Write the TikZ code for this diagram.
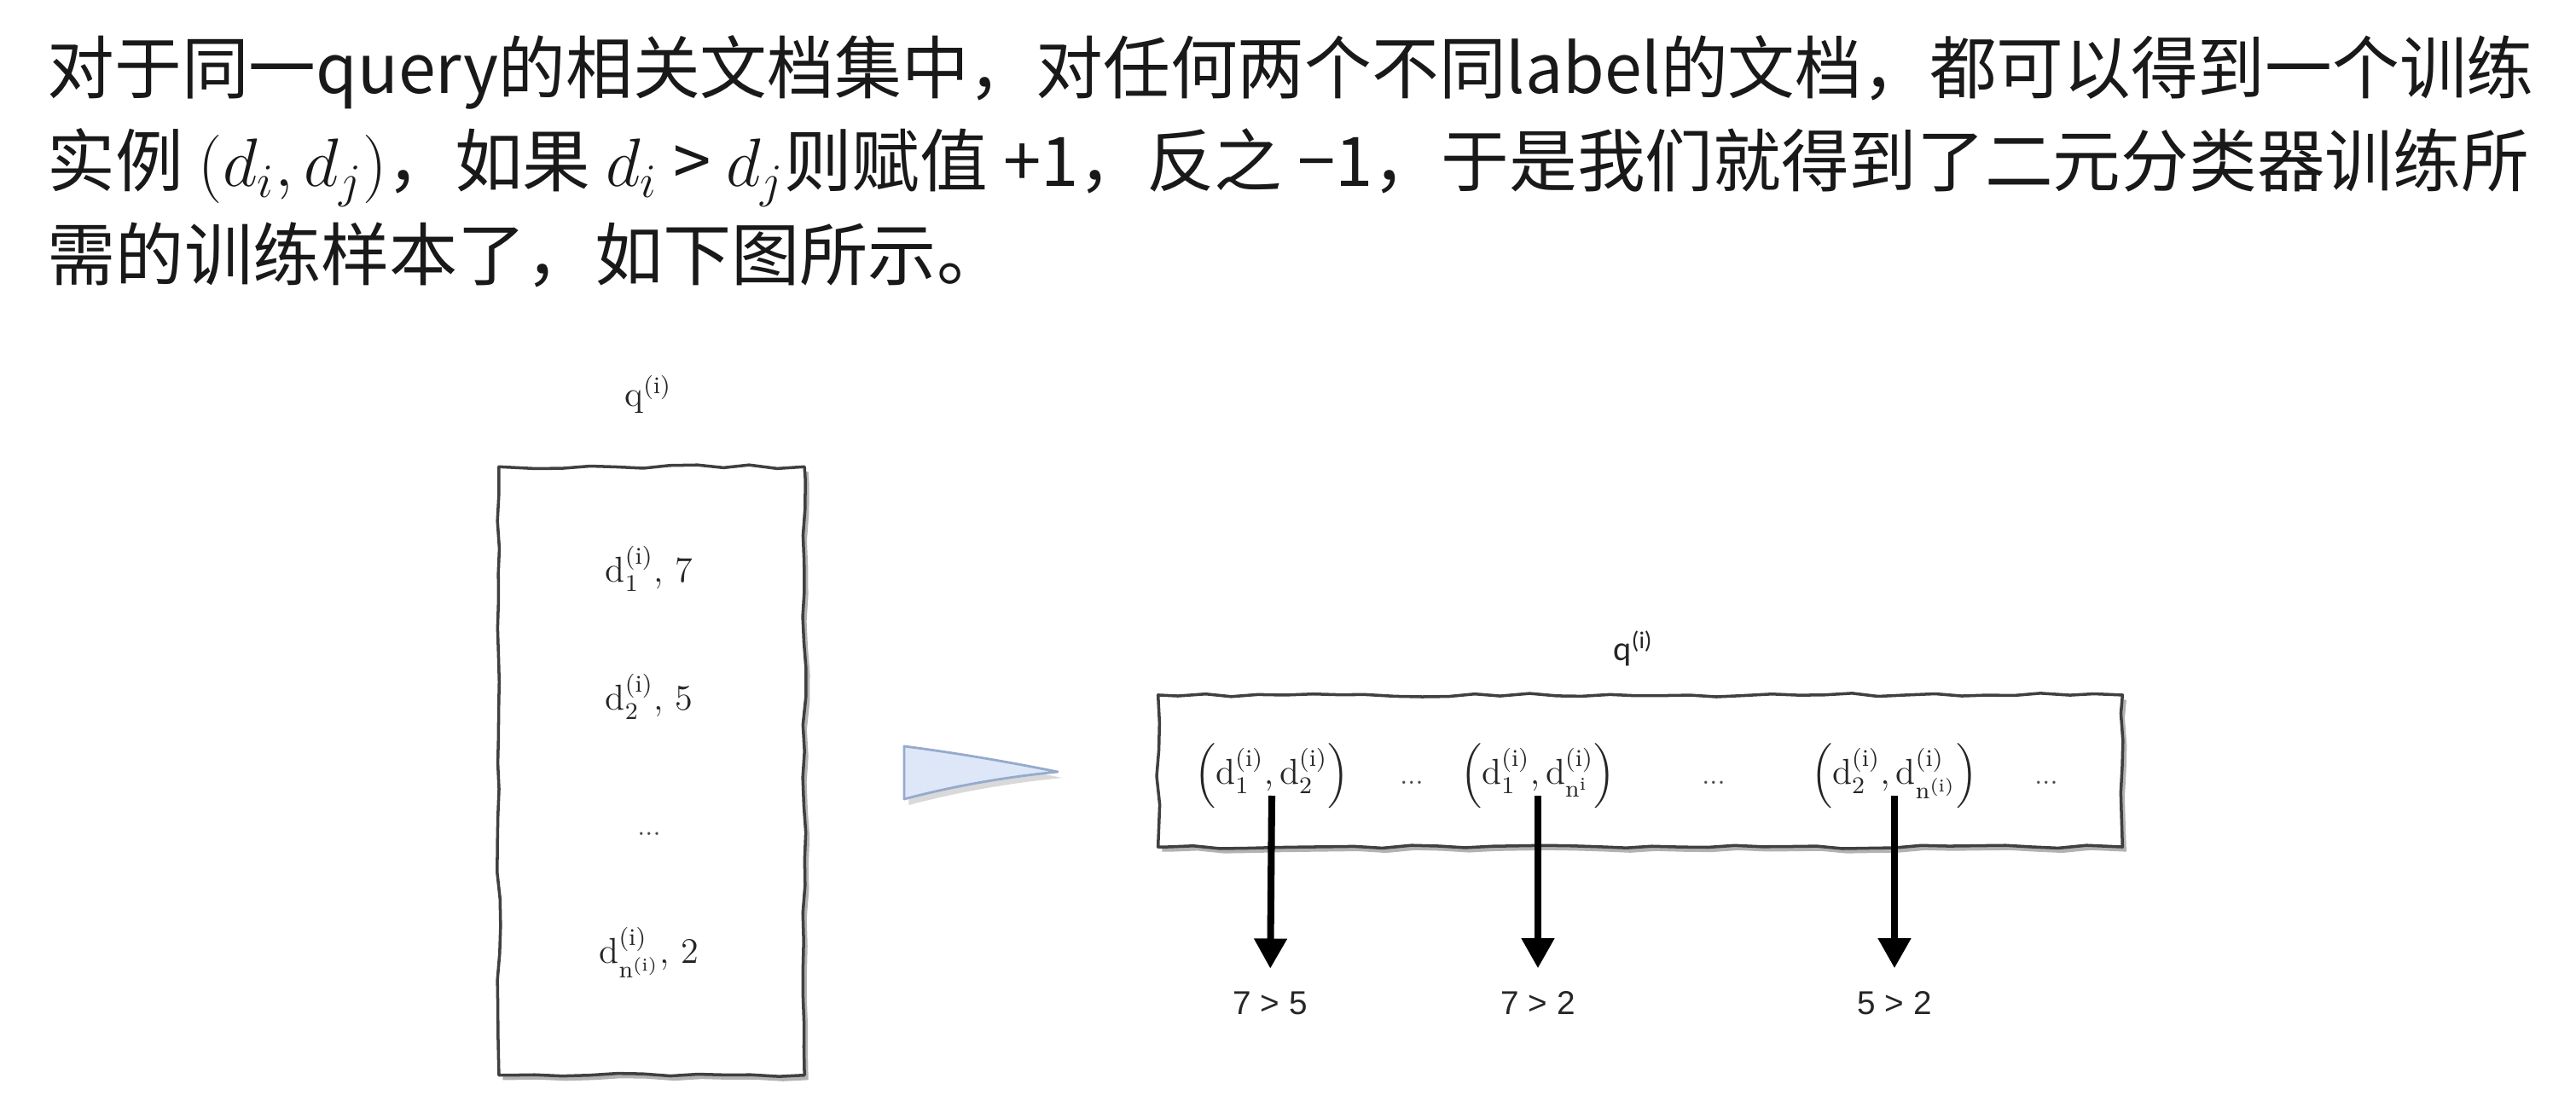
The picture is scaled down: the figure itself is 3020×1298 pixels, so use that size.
\RequirePackage{fix-cm}
\documentclass[tikz,border=0pt]{standalone}
\usepackage{amsmath}
\usepackage{fontspec}
\newfontfamily\cjkfont{Noto Sans CJK SC}
\newfontfamily\calfont{Carlito}
\newfontfamily\arialfont{Liberation Sans}
\usetikzlibrary{arrows.meta,positioning,shadows,decorations.pathmorphing}
\definecolor{pointerfill}{RGB}{221,231,247}
\definecolor{pointerline}{RGB}{150,170,205}
\newcommand{\dq}[1]{\mathrm{d}^{(\mathrm{i})}_{#1}}

\begin{document}
\begin{tikzpicture}[
    x=0.01cm, y=-0.01cm,
    textline/.style={anchor=base west, inner sep=0, text=black!90, font=\cjkfont\fontsize{22.8}{27}\selectfont},
    lmlabel/.style={anchor=base, inner sep=0, text=black!85, font=\fontsize{12}{14}\selectfont},
    dotlabel/.style={anchor=base, inner sep=0, text=black!70, font=\fontsize{9}{11}\selectfont},
    callabel/.style={anchor=base, inner sep=0, text=black!85, font=\calfont\fontsize{11.5}{13}\selectfont},
    cmplabel/.style={anchor=base, inner sep=0, text=black!85, font=\arialfont\fontsize{11}{13}\selectfont},
    sketchbox/.style={draw=black!75, fill=white, line width=1pt, line join=round,
        decorate, decoration={random steps, segment length=9pt, amplitude=0.6pt, pre length=3pt, post length=3pt},
        drop shadow={shadow xshift=1.3pt, shadow yshift=-1.6pt, fill=black, opacity=0.3}},
    cmparrow/.style={-{Triangle[length=10pt, width=10.5pt]}, line width=2.3pt, shorten >=0.27cm},
    pointer/.style={draw=pointerline, fill=pointerfill, line width=0.8pt, line join=round,
        drop shadow={shadow xshift=1.5pt, shadow yshift=-2pt, fill=black, opacity=0.15}}]
\pgfmathsetseed{7}
\useasboundingbox (0,0) rectangle (3020,1298);

\node[textline] (line1) at (55,110) {\scalebox{0.982}[1]{对于同一query的相关文档集中，对任何两个不同label的文档，都可以得到一个训练}};
\node[textline] (line2) at (55,219) {\scalebox{0.994}[1]{实例 $(d_i, d_j)$，如果 $d_i$ > $d_j$则赋值 +1，反之 −1，于是我们就得到了二元分类器训练所}};
\node[textline] (line3) at (55,329) {需的训练样本了，如下图所示。};

\node[sketchbox, minimum width=3.58cm, minimum height=7.13cm] (docbox) at (764,904) {};
\node[lmlabel] (qleft) at (760,477) {$\mathrm{q}^{(\mathrm{i})}$};
\node[lmlabel] (doc1) at (761,683) {$\dq{1}$, 7};
\node[lmlabel] (doc2) at (761,833) {$\dq{2}$, 5};
\node[dotlabel] (docdots) at (761,980) {...};
\node[lmlabel] (docn) at (761,1130) {$\dq{\mathrm{n}^{(\mathrm{i})}}$, 2};

\path[pointer] (1060,875) .. controls (1130,884) and (1190,895) .. (1240,905)
    .. controls (1180,911) and (1120,921) .. (1060,937) -- cycle;

\node[callabel] (qright) at (1915,775) {q\textsuperscript{(i)}};
\node[sketchbox, minimum width=11.3cm, minimum height=1.78cm] (pairbox) at (1923,904) {};
\node[lmlabel] (pairA) at (1491,920) {$\left(\dq{1},\dq{2}\right)$};
\node[dotlabel] (dotsA) at (1655,920) {...};
\node[lmlabel] (pairB) at (1803,920) {$\left(\dq{1},\dq{\mathrm{n}^{\mathrm{i}}}\right)$};
\node[dotlabel] (dotsB) at (2009,920) {...};
\node[lmlabel] (pairC) at (2221,920) {$\left(\dq{2},\dq{\mathrm{n}^{(\mathrm{i})}}\right)$};
\node[dotlabel] (dotsC) at (2399,920) {...};

\node[cmplabel] (cmpA) at (1489,1190) {7 > 5};
\node[cmplabel] (cmpB) at (1803,1190) {7 > 2};
\node[cmplabel] (cmpC) at (2221,1190) {5 > 2};

\draw[cmparrow] ([yshift=-0.13cm]pairA.base) -- (cmpA.north);
\draw[cmparrow] ([yshift=-0.13cm]pairB.base) -- (cmpB.north);
\draw[cmparrow] ([yshift=-0.13cm]pairC.base) -- (cmpC.north);

\end{tikzpicture}
\end{document}
